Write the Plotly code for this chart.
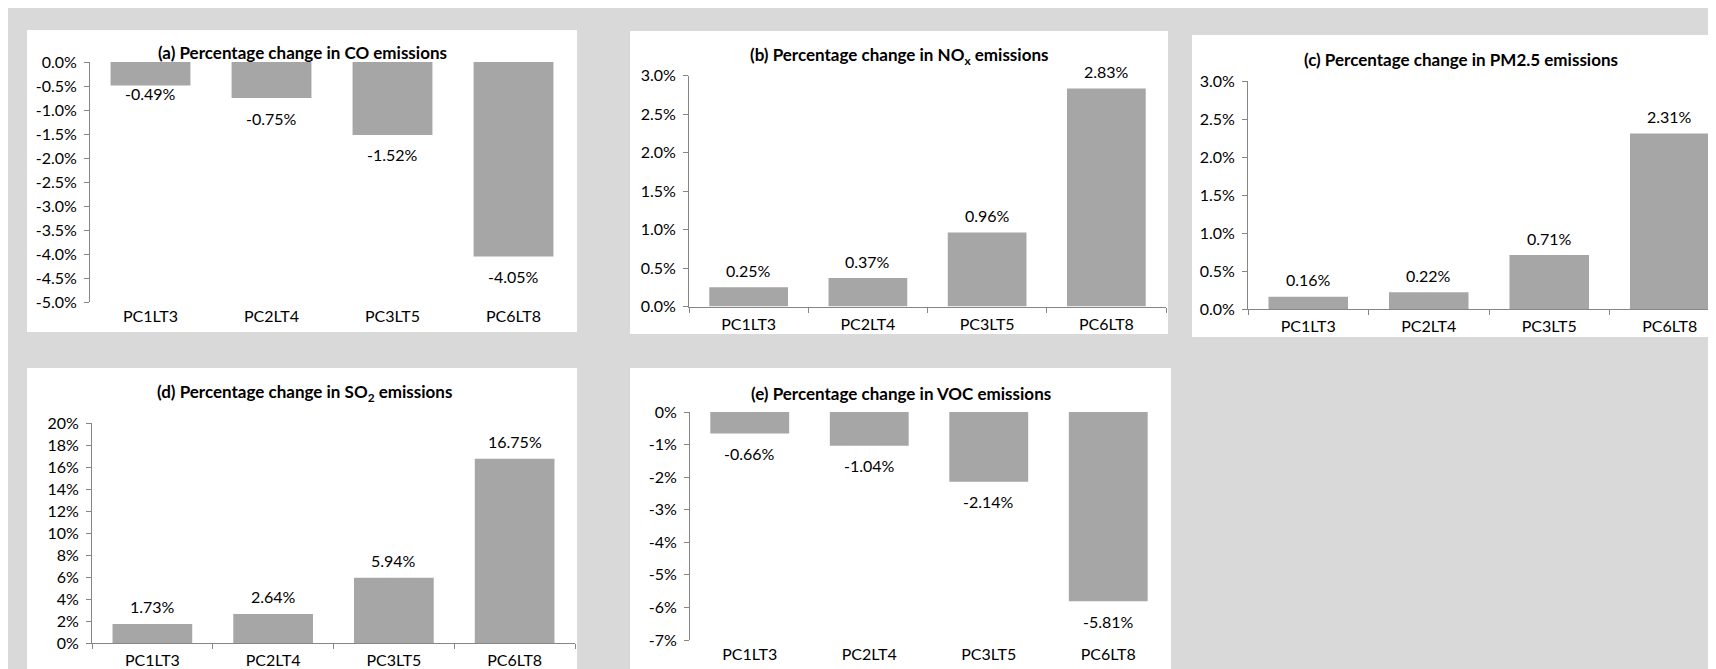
import plotly.graph_objects as go

# ---------------- data ----------------
categories = ["PC1LT3", "PC2LT4", "PC3LT5", "PC6LT8"]

co_change = [-0.49, -0.75, -1.52, -4.05]
nox_change = [0.25, 0.37, 0.96, 2.83]
pm25_change = [0.16, 0.22, 0.71, 2.31]
so2_change = [1.73, 2.64, 5.94, 16.75]
voc_change = [-0.66, -1.04, -2.14, -5.81]

co_ticks = [0.0, -0.5, -1.0, -1.5, -2.0, -2.5, -3.0, -3.5, -4.0, -4.5, -5.0]
co_ticklabels = ["0.0%", "-0.5%", "-1.0%", "-1.5%", "-2.0%", "-2.5%", "-3.0%", "-3.5%", "-4.0%", "-4.5%", "-5.0%"]
nox_ticks = [0.0, 0.5, 1.0, 1.5, 2.0, 2.5, 3.0]
nox_ticklabels = ["0.0%", "0.5%", "1.0%", "1.5%", "2.0%", "2.5%", "3.0%"]
pm25_ticks = [0.0, 0.5, 1.0, 1.5, 2.0, 2.5, 3.0]
pm25_ticklabels = ["0.0%", "0.5%", "1.0%", "1.5%", "2.0%", "2.5%", "3.0%"]
so2_ticks = [0, 2, 4, 6, 8, 10, 12, 14, 16, 18, 20]
so2_ticklabels = ["0%", "2%", "4%", "6%", "8%", "10%", "12%", "14%", "16%", "18%", "20%"]
voc_ticks = [0, -1, -2, -3, -4, -5, -6, -7]
voc_ticklabels = ["0%", "-1%", "-2%", "-3%", "-4%", "-5%", "-6%", "-7%"]

titles = [
    "<b>(a) Percentage change in CO emissions</b>",
    "<b>(b) Percentage change in NO<sub>x</sub> emissions</b>",
    "<b>(c) Percentage change in PM2.5 emissions</b>",
    "<b>(d) Percentage change in SO<sub>2</sub> emissions</b>",
    "<b>(e) Percentage change in VOC emissions</b>",
]

# ---------------- layout / style ----------------
# figure sits at the page body's 8px offset; everything below is in page pixels
OFF = 8
W, H = 1740, 669
FONT = "Lato"
BAR = "#a6a6a6"
AXIS = "#868686"
BG = "#d9d9d9"


def fx(x):
    return (x - OFF) / W


def fy(y):
    return 1 - (y - OFF) / H


panels = [
    dict(vals=co_change, ticks=co_ticks, tlab=co_ticklabels, box=(27, 30, 577, 332),
         px=(90, 574), py=(62, 302), yr=(-5, 0), neg=True, tc=(302, 53)),
    dict(vals=nox_change, ticks=nox_ticks, tlab=nox_ticklabels, box=(630, 31, 1168, 334),
         px=(689, 1166), py=(75.5, 306.5), yr=(0, 3), neg=False, tc=(899, 56)),
    dict(vals=pm25_change, ticks=pm25_ticks, tlab=pm25_ticklabels, box=(1192, 35, 1736, 337),
         px=(1248, 1730), py=(81, 309), yr=(0, 3), neg=False, tc=(1461, 59)),
    dict(vals=so2_change, ticks=so2_ticks, tlab=so2_ticklabels, box=(27, 368, 577, 677),
         px=(92, 575), py=(423, 643), yr=(0, 20), neg=False, tc=(304, 393)),
    dict(vals=voc_change, ticks=voc_ticks, tlab=voc_ticklabels, box=(630, 368, 1171, 677),
         px=(690, 1168), py=(412, 640), yr=(-7, 0), neg=True, tc=(901, 393)),
]

fig = go.Figure()
shapes = []
annotations = []
layout = {}
tickfont = dict(family=FONT, size=16, color="black")

for i, p in enumerate(panels):
    n = i + 1
    xa = "x" if n == 1 else f"x{n}"
    ya = "y" if n == 1 else f"y{n}"
    xkey = "xaxis" if n == 1 else f"xaxis{n}"
    ykey = "yaxis" if n == 1 else f"yaxis{n}"

    b = p["box"]
    shapes.append(dict(type="rect", xref="paper", yref="paper", x0=fx(b[0]), x1=min(fx(b[2]), 1),
                       y0=max(fy(b[3]), 0), y1=fy(b[1]), fillcolor="white", line_width=0,
                       layer="below"))

    fig.add_trace(go.Bar(x=categories, y=p["vals"], xaxis=xa, yaxis=ya, marker_color=BAR,
                         marker_line_width=0, showlegend=False, hoverinfo="x+y"))

    layout[xkey] = dict(domain=[fx(p["px"][0]), fx(p["px"][1])], anchor=ya, type="category",
                        range=[-0.5, 3.5], showgrid=False, zeroline=False, automargin=False,
                        showline=not p["neg"], linecolor=AXIS, linewidth=1,
                        ticks="outside", tickson="boundaries", ticklen=5,
                        tickcolor=AXIS if not p["neg"] else "rgba(0,0,0,0)",
                        ticklabelstandoff=3, tickfont=tickfont, fixedrange=True)
    layout[ykey] = dict(domain=[fy(p["py"][1]), fy(p["py"][0])], anchor=xa, range=list(p["yr"]),
                        tickvals=p["ticks"], ticktext=p["tlab"], showgrid=False, zeroline=False,
                        automargin=False, showline=True, linecolor=AXIS, linewidth=1,
                        ticks="outside", ticklen=5, tickcolor=AXIS, ticklabelstandoff=4,
                        tickfont=tickfont, fixedrange=True)

    if p["neg"]:
        okey = f"xaxis{10 + n}"
        layout[okey] = dict(overlaying=xa, anchor=ya, side="top", range=[-0.5, 3.5],
                            tickvals=[-0.5, 0.5, 1.5, 2.5, 3.5], showticklabels=False,
                            ticks="inside", ticklen=5, tickcolor=AXIS, showline=True,
                            linecolor=AXIS, linewidth=1, showgrid=False, zeroline=False,
                            automargin=False, fixedrange=True)

    for c, v in zip(categories, p["vals"]):
        if v >= 0:
            shift = 17
        else:
            shift = -8 if abs(v) < 0.5 else -20
        annotations.append(dict(xref=xa, yref=ya, x=c, y=v, text=f"{v:.2f}%", showarrow=False,
                                yshift=shift, yanchor="middle",
                                font=dict(family=FONT, size=16, color="black")))

    annotations.append(dict(xref="paper", yref="paper", x=fx(p["tc"][0]), y=fy(p["tc"][1]),
                            text=titles[i], showarrow=False, xanchor="center", yanchor="middle",
                            font=dict(family=FONT, size=17, color="black")))

fig.update_layout(template="none", width=W, height=H, autosize=False,
                  margin=dict(l=0, r=0, t=0, b=0, pad=0), paper_bgcolor=BG,
                  plot_bgcolor="rgba(0,0,0,0)", bargap=0.34, shapes=shapes,
                  annotations=annotations, **layout)

fig.write_html("out.html", config={"displayModeBar": False})
